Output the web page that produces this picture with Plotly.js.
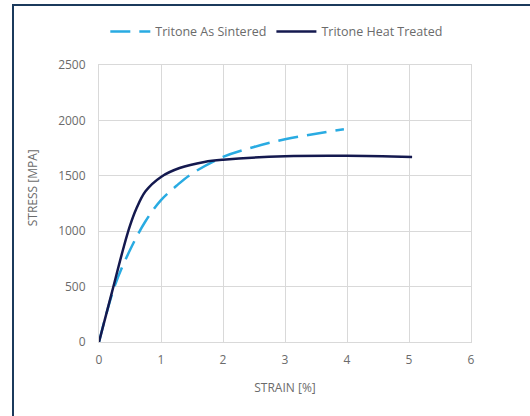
<!DOCTYPE html>
<html>
<head>
<meta charset="utf-8">
<script src="https://cdn.plot.ly/plotly-3.0.1.min.js"></script>
<style>
  html, body { margin: 0; padding: 0; background: #fff; }
  #frame { position: absolute; left: 12px; top: 4px; width: 520px; height: 414px;
           border-left: 2px solid #1b3a5c; border-top: 2px solid #1b3a5c; }
  #chart { position: absolute; left: 0; top: 0; width: 530px; height: 416px; }
</style>
</head>
<body>
<div id="frame"></div>
<div id="chart"></div>
<script>
// Data
const sinteredStrain = [0, 0.25, 0.5, 0.75, 1.0, 1.25, 1.5, 2.0, 2.5, 3.0, 3.5, 3.95];
const sinteredStress = [0, 500, 830, 1090, 1280, 1410, 1520, 1670, 1760, 1830, 1880, 1920];

const heatStrain = [0, 0.2, 0.4, 0.5, 0.6, 0.75, 1.0, 1.3, 1.7, 2.0, 3.0, 4.0, 5.05];
const heatStress = [0, 430, 860, 1050, 1200, 1360, 1490, 1570, 1625, 1645, 1676, 1680, 1670];

const seriesNames = ['Tritone As Sintered', 'Tritone Heat Treated'];
const xTicks = [0, 1, 2, 3, 4, 5, 6];
const yTicks = [0, 500, 1000, 1500, 2000, 2500];
const xTitle = 'STRAIN [%]';
const yTitle = 'STRESS [MPA]';

const font = '"Open Sans", Lato, sans-serif';
const grey = '#6b6b6b';
const grid = '#d9d9d9';

const traces = [
  {
    x: sinteredStrain, y: sinteredStress, name: seriesNames[0],
    type: 'scatter', mode: 'lines',
    line: { color: '#29abe2', width: 2.5, dash: '20px,9px', shape: 'spline', smoothing: 1 }
  },
  {
    x: heatStrain, y: heatStress, name: seriesNames[1],
    type: 'scatter', mode: 'lines',
    line: { color: '#14194f', width: 2.5, shape: 'spline', smoothing: 1 }
  }
];

const layout = {
  width: 530, height: 416,
  margin: { l: 99, r: 59, t: 65, b: 74 },
  paper_bgcolor: 'rgba(0,0,0,0)',
  plot_bgcolor: '#ffffff',
  font: { family: font, size: 12, color: grey },
  showlegend: true,
  legend: {
    orientation: 'h', x: 0.478, xanchor: 'center', y: 1.12, yanchor: 'middle',
    font: { family: font, size: 12.5, color: grey }, itemwidth: 40
  },
  xaxis: {
    range: [0, 6], tickvals: xTicks, ticktext: xTicks.map(String),
    showgrid: true, gridcolor: grid, gridwidth: 1,
    zeroline: false, showline: true, mirror: true, linecolor: grid, linewidth: 1,
    ticks: '', ticklen: 0, ticklabelstandoff: 7,
    tickfont: { family: font, size: 12, color: grey },
    title: { text: xTitle, font: { family: font, size: 12, color: grey }, standoff: 16 }
  },
  yaxis: {
    range: [0, 2500], tickvals: yTicks, ticktext: yTicks.map(String),
    showgrid: true, gridcolor: grid, gridwidth: 1,
    zeroline: false, showline: true, mirror: true, linecolor: grid, linewidth: 1,
    ticks: '', ticklen: 0, ticklabelstandoff: 10,
    tickfont: { family: font, size: 12, color: grey }
  },
  annotations: [{
    text: yTitle, textangle: -90, showarrow: false,
    xref: 'paper', yref: 'paper', x: -0.18, y: 0.555,
    xanchor: 'center', yanchor: 'middle',
    font: { family: font, size: 12, color: grey }
  }]
};

Plotly.newPlot('chart', traces, layout, { staticPlot: true, displayModeBar: false });
</script>
</body>
</html>
